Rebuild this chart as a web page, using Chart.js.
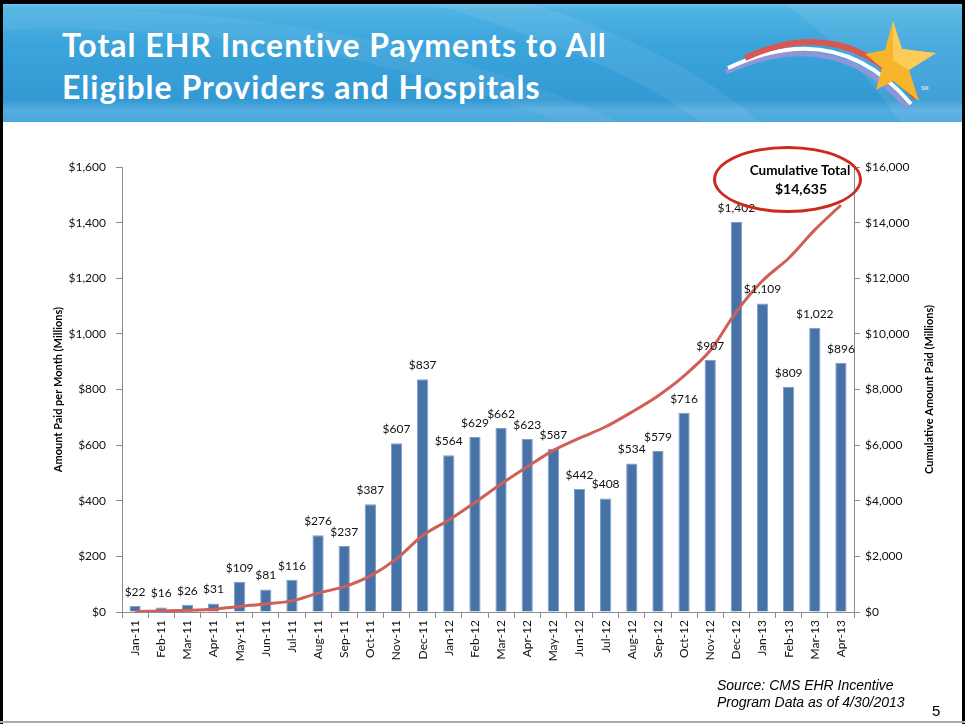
<!DOCTYPE html>
<html>
<head>
<meta charset="utf-8">
<script src="https://cdn.jsdelivr.net/npm/chart.js@4.4.1/dist/chart.umd.min.js"></script>
<style>
  body { margin: 0; background: #fff; }
  #slide { position: relative; width: 965px; height: 724px; overflow: hidden; background: #fff; }
  #chart { position: absolute; left: 0; top: 0; }
  #header {
    position: absolute; left: 0; top: 0; width: 965px; height: 122px;
    background: linear-gradient(180deg, #78c9ee 0px, #4fb3e3 10px, #3ba4db 45px, #3399d3 100px, #55ade0 110px, #4aa6dc 122px);
    overflow: hidden;
  }
  #title {
    position: absolute; left: 62px; top: 24px;
    font-family: Lato, "Open Sans", sans-serif; font-weight: bold; font-size: 32px; line-height: 42px;
    letter-spacing: 1px;
    color: #fff; white-space: nowrap;
  }
  .frame { position: absolute; background: #000; }
  #note {
    position: absolute; left: 713px; top: 146px; width: 143px; height: 61px;
    border: 3px solid #cc2a1e; border-radius: 50%;
  }
  .notetext {
    position: absolute; width: 200px; text-align: center;
    font-family: Lato, sans-serif; font-weight: bold; color: #000;
  }
  #source {
    position: absolute; left: 717px; top: 677px;
    font-family: "Liberation Sans", Arial, sans-serif; font-style: italic; font-size: 14px; line-height: 17px;
    color: #000;
  }
  #page {
    position: absolute; left: 932px; top: 702px;
    font-family: "Liberation Sans", Arial, sans-serif; font-size: 15px; color: #000;
  }
</style>
</head>
<body>
<div id="slide">
  <canvas id="chart" width="965" height="724"></canvas>

  <div id="header">
    <svg width="965" height="122" style="position:absolute;left:0;top:0">
      <path d="M 420 0 Q 620 60 700 122 L 760 122 Q 680 50 520 0 Z" fill="#ffffff" opacity="0.07"/>
      <path d="M 0 30 Q 300 20 560 122 L 620 122 Q 360 0 0 10 Z" fill="#ffffff" opacity="0.06"/>
      <path d="M 780 0 Q 860 60 900 122 L 965 122 L 965 0 Z" fill="#ffffff" opacity="0.08"/>
      <path d="M 726 72 Q 835 22 908 108" stroke="#8e97d6" stroke-width="5" fill="none"/>
      <path d="M 728 68 Q 837 16 911 104" stroke="#ffffff" stroke-width="4" fill="none"/>
      <path d="M 745 58 Q 845 12 916 98" stroke="#d9574e" stroke-width="6" fill="none"/>
      <path d="M 893 21 L 902 49 L 936 53 L 909 70 L 919 101 L 893 81 L 876 90 L 882 68 L 865 54 L 885 50 Z" fill="#f7b52c"/>
      <path d="M 893 21 L 902 49 L 936 53 L 909 70 L 893 60 Z" fill="#fcd56a" opacity="0.7"/>
      <text x="921" y="90" font-family="Liberation Sans, sans-serif" font-size="5" fill="#ffffff">SM</text>
    </svg>
    <div id="title">Total EHR Incentive Payments to All<br>Eligible Providers and Hospitals</div>
  </div>

  <div class="frame" style="left:0;top:0;width:965px;height:4px;"></div>
  <div class="frame" style="left:0;top:0;width:3px;height:724px;"></div>
  <div class="frame" style="left:962px;top:0;width:3px;height:724px;"></div>
  <div class="frame" style="left:0;top:721px;width:965px;height:2px;background:#aaa;"></div>

  <div id="note"></div>
  <div class="notetext" style="left:700px;top:162px;font-size:13.5px;">Cumulative Total</div>
  <div class="notetext" style="left:701px;top:180px;font-size:14px;">$14,635</div>

  <div id="source">Source: CMS EHR Incentive<br>Program Data as of 4/30/2013</div>
  <div id="page">5</div>
</div>

<script>
const mesi = ["Jan-11", "Feb-11", "Mar-11", "Apr-11", "May-11", "Jun-11", "Jul-11", "Aug-11", "Sep-11", "Oct-11",
  "Nov-11", "Dec-11", "Jan-12", "Feb-12", "Mar-12", "Apr-12", "May-12", "Jun-12", "Jul-12", "Aug-12",
  "Sep-12", "Oct-12", "Nov-12", "Dec-12", "Jan-13", "Feb-13", "Mar-13", "Apr-13"];

// pagamenti mensili (milioni $)
const pagamentiMensili = [22, 16, 26, 31, 109, 81, 116, 276, 237, 387,
  607, 837, 564, 629, 662, 623, 587, 442, 408, 534,
  579, 716, 907, 1402, 1109, 809, 1022, 896];

const totaleCumulativo = [20, 40, 60, 100, 200, 290, 400, 680, 910, 1300,
  1910, 2750, 3310, 3940, 4600, 5220, 5810, 6250, 6660, 7190,
  7770, 8490, 9400, 10800, 11910, 12720, 13740, 14635];

const FONT = "Lato, 'Open Sans', sans-serif";
const GRIGIO_ASSE = "#8c8c8c";

function formattaDollari(v) {
  return "$" + Number(v).toLocaleString("en-US");
}

// etichette sopra le barre + titolo dell'asse destro (letto dal basso verso l'alto)
const etichetteBarre = {
  id: "etichetteBarre",
  afterDatasetsDraw(chart) {
    const ctx = chart.ctx;
    const meta = chart.getDatasetMeta(1);
    ctx.save();
    ctx.font = "12px " + FONT;
    ctx.fillStyle = "#111";
    ctx.textAlign = "center";
    ctx.textBaseline = "middle";
    meta.data.forEach((bar, i) => {
      ctx.fillText(formattaDollari(pagamentiMensili[i]), bar.x, bar.y - 14);
    });
    ctx.restore();
  },
  afterDraw(chart) {
    const ctx = chart.ctx;
    const area = chart.chartArea;
    const asse = chart.scales.y1;
    ctx.save();
    ctx.translate(asse.right - 11, (area.top + area.bottom) / 2);
    ctx.rotate(-Math.PI / 2);
    ctx.font = "bold 11px " + FONT;
    ctx.fillStyle = "#000";
    ctx.textAlign = "center";
    ctx.textBaseline = "middle";
    ctx.fillText("Cumulative Amount Paid (Millions)", 0, 0);
    ctx.restore();
  }
};

const ctx = document.getElementById("chart").getContext("2d");

new Chart(ctx, {
  data: {
    labels: mesi,
    datasets: [
      {
        type: "line",
        label: "Cumulative",
        data: totaleCumulativo,
        yAxisID: "y1",
        borderColor: "#cf5f57",
        borderWidth: 3,
        pointRadius: 0,
        tension: 0.3,
        fill: false,
        order: 0
      },
      {
        type: "bar",
        label: "Monthly",
        data: pagamentiMensili,
        yAxisID: "y",
        backgroundColor: "#4672a8",
        borderColor: "#7e9ec8",
        borderWidth: 1,
        barPercentage: 0.43,
        categoryPercentage: 1.0,
        order: 1
      }
    ]
  },
  options: {
    responsive: false,
    devicePixelRatio: 1,
    animation: false,
    layout: {
      padding: { left: 48, right: 25, top: 167, bottom: 0 }
    },
    plugins: {
      legend: { display: false },
      tooltip: { enabled: false }
    },
    scales: {
      x: {
        offset: true,
        afterFit: scale => { scale.height = 112; },
        grid: {
          offset: true,
          drawOnChartArea: false,
          tickLength: 6,
          color: GRIGIO_ASSE
        },
        border: { color: GRIGIO_ASSE },
        ticks: {
          minRotation: 90,
          maxRotation: 90,
          padding: 2,
          color: "#111",
          font: { family: FONT, size: 12 }
        }
      },
      y: {
        position: "left",
        min: 0,
        max: 1600,
        afterFit: scale => { scale.width = 74; },
        grid: { drawOnChartArea: false, tickLength: 6, color: GRIGIO_ASSE },
        border: { color: GRIGIO_ASSE },
        ticks: {
          stepSize: 200,
          padding: 10,
          color: "#111",
          font: { family: FONT, size: 12 },
          callback: v => formattaDollari(v)
        },
        title: {
          display: true,
          text: "Amount Paid per Month (Millions)",
          color: "#000",
          font: { family: FONT, size: 11, weight: "bold" }
        }
      },
      y1: {
        position: "right",
        min: 0,
        max: 16000,
        afterFit: scale => { scale.width = 86; },
        grid: { drawOnChartArea: false, tickLength: 6, color: GRIGIO_ASSE },
        border: { color: GRIGIO_ASSE },
        ticks: {
          stepSize: 2000,
          padding: 5,
          color: "#111",
          font: { family: FONT, size: 12 },
          callback: v => formattaDollari(v)
        }
      }
    }
  },
  plugins: [etichetteBarre]
});
</script>
</body>
</html>
